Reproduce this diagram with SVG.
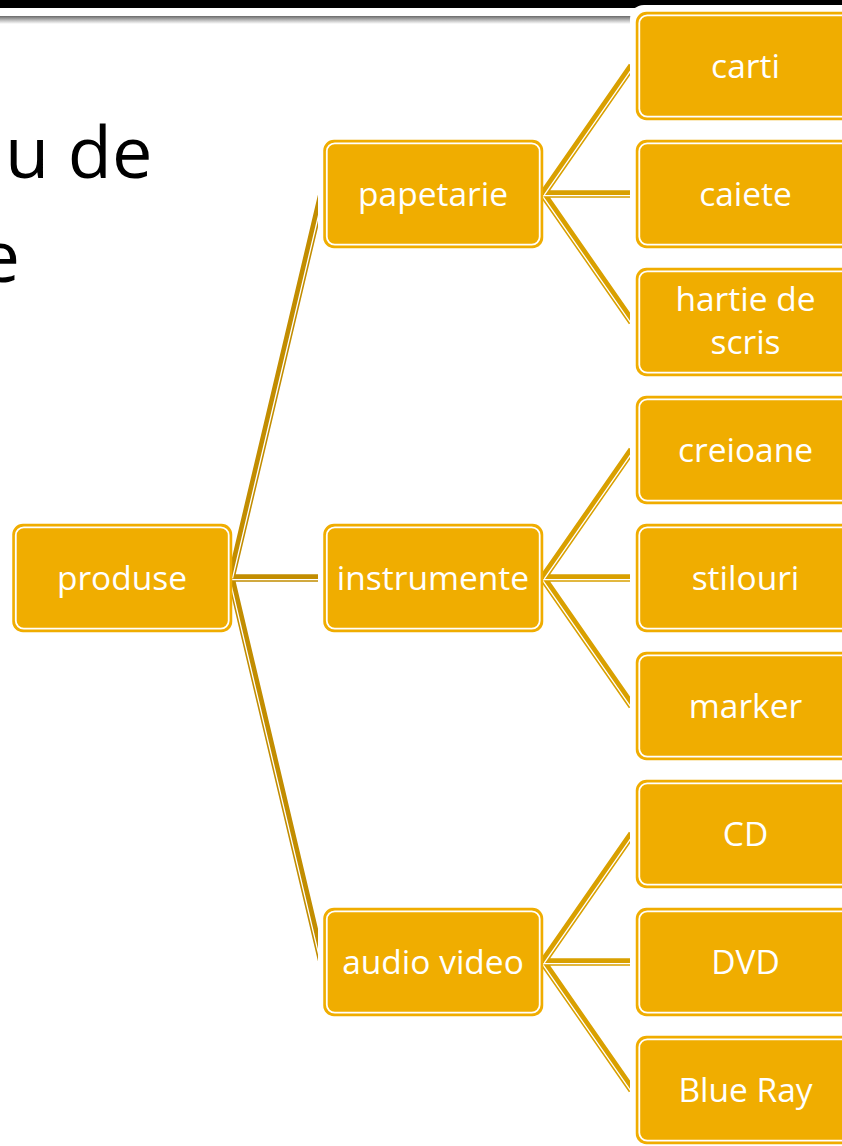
<svg xmlns="http://www.w3.org/2000/svg" width="842" height="1146" viewBox="0 0 842 1146">
<defs>
<linearGradient id="sh" x1="0" y1="0" x2="0" y2="1">
<stop offset="0" stop-color="#6a6a6a"/>
<stop offset="0.5" stop-color="#b8b8b8"/>
<stop offset="1" stop-color="#ffffff"/>
</linearGradient>
<clipPath id="c1"><rect x="230" y="0" width="88" height="1146"/></clipPath>
<clipPath id="c2"><rect x="542" y="0" width="88" height="1146"/></clipPath>
<style>
.box{fill:#F0AD00;stroke:#F0AD00;stroke-width:1.5}
.inner{fill:none;stroke:#ffffff;stroke-width:1.8}
.halo{fill:#ffffff}
.t{font-family:"Open Sans","Noto Sans",sans-serif;font-size:33.5px;fill:#ffffff;text-anchor:middle}
.title{font-family:"Open Sans","Noto Sans",sans-serif;font-size:72px;fill:#000000}
.g1{stroke:#C28D00;stroke-width:7.5;fill:none}
.g2{stroke:#D9A000;stroke-width:7.5;fill:none}
.w{stroke:#ffffff;stroke-width:1.3;fill:none}
</style>
</defs>
<rect x="0" y="0" width="842" height="1146" fill="#ffffff"/>
<rect x="0" y="0" width="842" height="8" fill="#000000"/>
<rect x="0" y="16" width="634" height="8" fill="url(#sh)"/>
<g id="title">
<text class="title" x="5" y="178">u de</text>
<text class="title" x="20" y="282" text-anchor="end">e</text>
</g>
<g id="connectors">
<g clip-path="url(#c1)">
<path class="g1" d="M231,578 L322,194 M231,578 L322,578 M231,578 L322,962"/>
<path class="w" d="M232.5,578.35 L323.5,194.35 M231,579.6 L322,579.6 M229.5,578.35 L320.5,962.35"/>
</g>
<g clip-path="url(#c2)">
<path class="g2" d="M543,194 L632,66 M543,194 L632,194 M543,194 L632,322"/>
<path class="w" d="M544.3,194.9 L633.3,66.9 M543,195.6 L632,195.6 M541.7,194.9 L630.7,322.9"/>
<path class="g2" d="M543,578 L632,450 M543,578 L632,578 M543,578 L632,706"/>
<path class="w" d="M544.3,578.9 L633.3,450.9 M543,579.6 L632,579.6 M541.7,578.9 L630.7,706.9"/>
<path class="g2" d="M543,962 L632,834 M543,962 L632,962 M543,962 L632,1090"/>
<path class="w" d="M544.3,962.9 L633.3,834.9 M543,963.6 L632,963.6 M541.7,962.9 L630.7,1090.9"/>
</g>
</g>
<g id="n-produse">
<rect class="box" x="13" y="524.5" width="218.5" height="107" rx="10"/>
<rect class="inner" x="15.8" y="527.3" width="212.9" height="101.4" rx="8"/>
<text class="t" x="122" y="590">produse</text>
</g>
<g id="n-papetarie">
<rect class="box" x="324" y="140.5" width="218.5" height="107" rx="10"/>
<rect class="inner" x="326.8" y="143.3" width="212.9" height="101.4" rx="8"/>
<text class="t" x="433" y="206">papetarie</text>
</g>
<g id="n-instrumente">
<rect class="box" x="324" y="524.5" width="218.5" height="107" rx="10"/>
<rect class="inner" x="326.8" y="527.3" width="212.9" height="101.4" rx="8"/>
<text class="t" x="433" y="590">instrumente</text>
</g>
<g id="n-audio-video">
<rect class="box" x="324" y="908.5" width="218.5" height="107" rx="10"/>
<rect class="inner" x="326.8" y="911.3" width="212.9" height="101.4" rx="8"/>
<text class="t" x="433" y="974">audio video</text>
</g>
<g id="n-carti">
<rect class="halo" x="630" y="5" width="232" height="121" rx="14"/>
<rect class="box" x="636.5" y="12.5" width="218.5" height="107" rx="10"/>
<rect class="inner" x="639.3" y="15.3" width="212.9" height="101.4" rx="8"/>
<text class="t" x="745.5" y="78">carti</text>
</g>
<g id="n-caiete">
<rect class="box" x="636.5" y="140.5" width="218.5" height="107" rx="10"/>
<rect class="inner" x="639.3" y="143.3" width="212.9" height="101.4" rx="8"/>
<text class="t" x="745.5" y="206">caiete</text>
</g>
<g id="n-hartie">
<rect class="box" x="636.5" y="268.5" width="218.5" height="107" rx="10"/>
<rect class="inner" x="639.3" y="271.3" width="212.9" height="101.4" rx="8"/>
<text class="t" x="745.5" y="311">hartie de</text>
<text class="t" x="745.5" y="354">scris</text>
</g>
<g id="n-creioane">
<rect class="box" x="636.5" y="396.5" width="218.5" height="107" rx="10"/>
<rect class="inner" x="639.3" y="399.3" width="212.9" height="101.4" rx="8"/>
<text class="t" x="745.5" y="462">creioane</text>
</g>
<g id="n-stilouri">
<rect class="box" x="636.5" y="524.5" width="218.5" height="107" rx="10"/>
<rect class="inner" x="639.3" y="527.3" width="212.9" height="101.4" rx="8"/>
<text class="t" x="745.5" y="590">stilouri</text>
</g>
<g id="n-marker">
<rect class="box" x="636.5" y="652.5" width="218.5" height="107" rx="10"/>
<rect class="inner" x="639.3" y="655.3" width="212.9" height="101.4" rx="8"/>
<text class="t" x="745.5" y="718">marker</text>
</g>
<g id="n-cd">
<rect class="box" x="636.5" y="780.5" width="218.5" height="107" rx="10"/>
<rect class="inner" x="639.3" y="783.3" width="212.9" height="101.4" rx="8"/>
<text class="t" x="745.5" y="846">CD</text>
</g>
<g id="n-dvd">
<rect class="box" x="636.5" y="908.5" width="218.5" height="107" rx="10"/>
<rect class="inner" x="639.3" y="911.3" width="212.9" height="101.4" rx="8"/>
<text class="t" x="745.5" y="974">DVD</text>
</g>
<g id="n-blue-ray">
<rect class="box" x="636.5" y="1036.5" width="218.5" height="107" rx="10"/>
<rect class="inner" x="639.3" y="1039.3" width="212.9" height="101.4" rx="8"/>
<text class="t" x="745.5" y="1102">Blue Ray</text>
</g>
</svg>
